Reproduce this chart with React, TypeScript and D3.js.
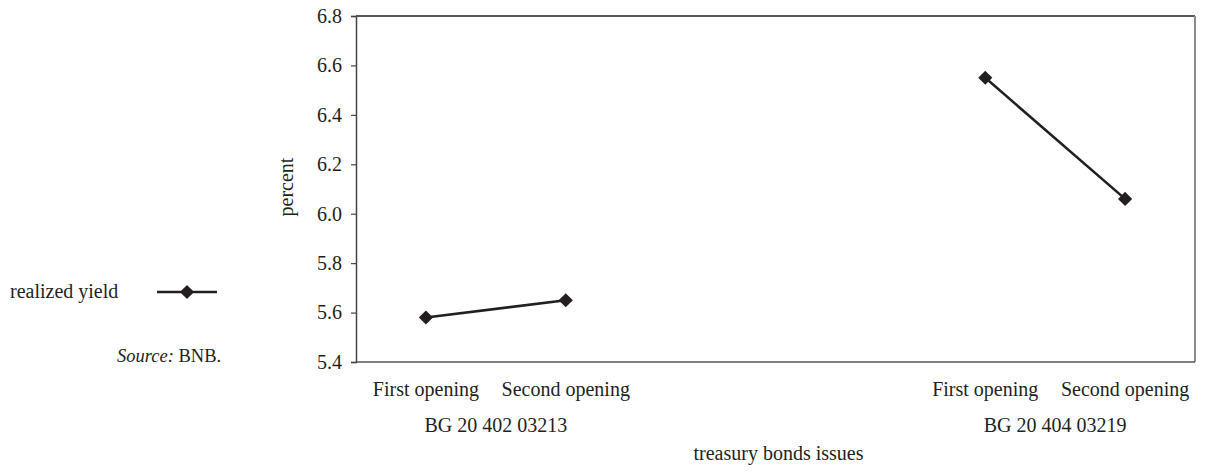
import { useEffect, useRef } from "react";
import * as d3 from "d3";

// категории по оси X (два выпуска, между ними пустые места)
const categories = ["c1", "c2", "c3", "c4", "c5", "c6"];
const categoryLabels = ["First opening", "Second opening", "", "", "First opening", "Second opening"];
const groupLabels = ["BG 20 402 03213", "BG 20 404 03219"];
const groupSpans = [["c1", "c2"], ["c5", "c6"]];
// доходность, %
const yieldValues = [5.58, 5.65, null, null, 6.55, 6.06];
const yTicks = [5.4, 5.6, 5.8, 6.0, 6.2, 6.4, 6.6, 6.8];

const App = () => {
  const svgRef = useRef(null);

  useEffect(() => {
    const W = 1213;
    const H = 473;
    const margin = { top: 16, right: 18, bottom: 111, left: 356 };
    const width = W - margin.left - margin.right;
    const height = H - margin.top - margin.bottom;
    const fontStyle = "font-family: 'Liberation Serif', serif; font-size: 20px";
    const ink = "#231f20";

    d3.select(svgRef.current).selectAll("*").remove();

    const root = d3.select(svgRef.current).attr("width", W).attr("height", H);
    root.append("rect").attr("width", W).attr("height", H).attr("fill", "#fff");

    const svg = root.append("g").attr("transform", `translate(${margin.left},${margin.top})`);

    const x = d3.scaleBand().domain(categories).range([0, width]).padding(0);
    const y = d3.scaleLinear().domain([5.4, 6.8]).range([height, 0]);

    // рамка
    svg.append("line").attr("x1", 0).attr("x2", width).attr("y1", 0).attr("y2", 0)
      .attr("stroke", ink).attr("stroke-width", 1.5);
    svg.append("line").attr("x1", width).attr("x2", width).attr("y1", 0).attr("y2", height)
      .attr("stroke", "#8a8a8a").attr("stroke-width", 2);
    svg.append("line").attr("x1", 0).attr("x2", width).attr("y1", height).attr("y2", height)
      .attr("stroke", "#555").attr("stroke-width", 1.5);

    // Y ось
    const yAxis = svg.append("g")
      .call(d3.axisLeft(y).tickValues(yTicks).tickFormat(d3.format(".1f")).tickSize(5).tickPadding(9));
    yAxis.attr("font-family", null).attr("font-size", null);
    yAxis.select(".domain").attr("stroke", "#444").attr("stroke-width", 1.5);
    yAxis.selectAll(".tick line").attr("stroke", "#444").attr("stroke-width", 1.2);
    yAxis.selectAll("text").attr("style", fontStyle).attr("fill", ink);

    // подписи категорий
    svg.append("g")
      .selectAll("text")
      .data(categories)
      .enter()
      .append("text")
      .attr("x", (d) => x(d) + x.bandwidth() / 2)
      .attr("y", height + 34)
      .attr("text-anchor", "middle")
      .attr("style", fontStyle)
      .attr("fill", ink)
      .text((d, i) => categoryLabels[i]);

    // подписи выпусков
    svg.append("g")
      .selectAll("text")
      .data(groupLabels)
      .enter()
      .append("text")
      .attr("x", (d, i) => {
        const [a, b] = groupSpans[i];
        return (x(a) + x(b) + x.bandwidth()) / 2;
      })
      .attr("y", height + 70)
      .attr("text-anchor", "middle")
      .attr("style", fontStyle)
      .attr("fill", ink)
      .text((d) => d);

    // подпись оси X
    svg.append("text")
      .attr("x", width / 2 + 3)
      .attr("y", height + 98)
      .attr("text-anchor", "middle")
      .attr("style", fontStyle)
      .attr("fill", ink)
      .text("treasury bonds issues");

    // подпись оси Y
    svg.append("text")
      .attr("transform", "rotate(-90)")
      .attr("x", -(187 - margin.top))
      .attr("y", -63)
      .attr("text-anchor", "middle")
      .attr("style", fontStyle)
      .attr("fill", ink)
      .text("percent");

    // линия
    const pts = categories.map((c, i) => ({ c, v: yieldValues[i] }));
    const line = d3.line()
      .defined((d) => d.v != null)
      .x((d) => x(d.c) + x.bandwidth() / 2)
      .y((d) => y(d.v));
    svg.append("path")
      .datum(pts)
      .attr("d", line)
      .attr("fill", "none")
      .attr("stroke", ink)
      .attr("stroke-width", 2.6);

    const diamond = d3.symbol().type(d3.symbolSquare).size(100);
    svg.selectAll(".pt")
      .data(pts.filter((d) => d.v != null))
      .enter()
      .append("path")
      .attr("d", diamond)
      .attr("transform", (d) => `translate(${x(d.c) + x.bandwidth() / 2},${y(d.v)}) rotate(45)`)
      .attr("fill", ink);

    // легенда
    const leg = root.append("g");
    leg.append("text")
      .attr("x", 10).attr("y", 298)
      .attr("style", fontStyle).attr("fill", ink)
      .text("realized yield");
    leg.append("line")
      .attr("x1", 157).attr("x2", 217).attr("y1", 292).attr("y2", 292)
      .attr("stroke", ink).attr("stroke-width", 2.6);
    leg.append("path")
      .attr("d", diamond)
      .attr("transform", "translate(187,292) rotate(45)")
      .attr("fill", ink);

    const src = root.append("text")
      .attr("x", 117).attr("y", 362)
      .attr("style", "font-family: 'Liberation Serif', serif; font-size: 18.5px")
      .attr("fill", ink);
    src.append("tspan").attr("font-style", "italic").text("Source:");
    src.append("tspan").text(" BNB.");
  }, []);

  return (
    <div style={{ position: "absolute", left: 0, top: 0 }}>
      <svg ref={svgRef} style={{ display: "block" }}></svg>
    </div>
  );
};

export default App;
